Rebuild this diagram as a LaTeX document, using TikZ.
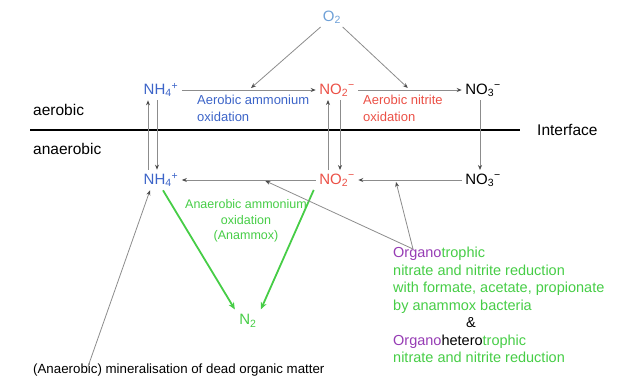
\documentclass[tikz,border=0pt]{standalone}
\usepackage{fontspec}
\setmainfont{Liberation Sans}
\usetikzlibrary{arrows.meta}

\definecolor{oxblue}{RGB}{110,160,215}
\definecolor{amblue}{RGB}{60,100,200}
\definecolor{nitred}{RGB}{235,80,70}
\definecolor{anagreen}{RGB}{70,205,70}
\definecolor{orgpurple}{RGB}{150,60,180}
\definecolor{linegray}{RGB}{140,140,140}

\newcommand{\ammon}{NH\textsubscript{4}\textsuperscript{+}}
\newcommand{\nitrite}{NO\textsubscript{2}\textsuperscript{\char"2212}}
\newcommand{\nitrate}{NO\textsubscript{3}\textsuperscript{\char"2212}}

\tikzset{
  spec/.style={font=\fontsize{15}{18}\selectfont},
  conv/.style={draw=linegray, line width=0.8pt,
    -{Stealth[length=5pt,width=4pt,color=black!70]}},
  ana/.style={draw=anagreen, line width=1.8pt,
    -{Stealth[length=7pt,width=6pt]}},
  proclabel/.style={anchor=north west, inner sep=0pt, align=left,
    font=\fontsize{13}{17}\selectfont},
  zone/.style={anchor=west, inner sep=0pt, font=\fontsize{15.5}{18}\selectfont}
}

\begin{document}
\begin{tikzpicture}[x=1pt,y=-1pt]
    \useasboundingbox (0,0) rectangle (619,384);

    % species
    \node[spec, text=oxblue] (o2) at (332,17) {O\textsubscript{2}};
    \node[spec, text=amblue] (nh4a) at (161,90) {\ammon};
    \node[spec, text=nitred] (no2a) at (337,90) {\nitrite};
    \node[spec] (no3a) at (483,90) {\nitrate};
    \node[spec, text=amblue] (nh4b) at (161,180) {\ammon};
    \node[spec, text=nitred] (no2b) at (337,180) {\nitrite};
    \node[spec] (no3b) at (483,180) {\nitrate};
    \node[spec, text=anagreen] (n2) at (248,321) {N\textsubscript{2}};

    % zones and interface
    \node[zone] (aer) at (33,110) {aerobic};
    \node[zone] (anaer) at (33,149) {anaerobic};
    \coordinate (ifl) at (30,130);
    \coordinate (ifr) at (520,130);
    \draw[line width=2.5pt] (ifl) -- (ifr);
    \node[zone] (iface) at (537,130) {Interface};

    % aerobic oxidations
    \draw[conv] (nh4a) -- coordinate[pos=0.5] (amox) (no2a);
    \draw[conv] (no2a) -- coordinate[pos=0.5] (nitox) (no3a);
    \draw[conv, shorten >=3pt] (o2) -- (amox);
    \draw[conv, shorten >=3pt] (o2) -- (nitox);
    \node[proclabel, text=amblue] (amoxlabel) at (197,95) {Aerobic ammonium\\oxidation};
    \node[proclabel, text=nitred] (nitoxlabel) at (363,95) {Aerobic nitrite\\oxidation};

    % exchange across the interface
    \draw[conv] ([xshift=-13pt]nh4b.north) -- ([xshift=-13pt]nh4a.south);
    \draw[conv] ([xshift=-4pt]nh4a.south) -- ([xshift=-4pt]nh4b.north);
    \draw[conv] ([xshift=-9pt]no2b.north) -- ([xshift=-9pt]no2a.south);
    \draw[conv] ([xshift=3pt]no2a.south) -- ([xshift=3pt]no2b.north);
    \draw[conv] ([xshift=-3pt]no3a.south) -- ([xshift=-3pt]no3b.north);

    % anaerobic reductions
    \draw[conv] (no2b) -- coordinate[pos=0.39] (dnra) (nh4b);
    \draw[conv] (no3b) -- coordinate[pos=0.64] (denit) (no2b);

    % anammox
    \draw[ana, shorten >=2pt] ([xshift=2pt]nh4b.south) -- (n2.north west);
    \draw[ana, shorten >=2pt] ([xshift=-2pt]no2b.south west) -- (n2.north east);
    \node[align=center, text=anagreen, inner sep=0pt, font=\fontsize{12.5}{15.5}\selectfont]
        (anamlabel) at (246,221) {Anaerobic ammonium\\oxidation\\(Anammox)};

    % organotrophic reduction
    \node[anchor=north west, inner sep=0pt, align=left, text=anagreen,
        font=\fontsize{14.5}{17.5}\selectfont] (orglabel) at (393,247)
        {{\color{orgpurple}Organo}trophic\\
         nitrate and nitrite reduction\\
         with formate, acetate, propionate\\
         by anammox bacteria\\
         \hspace*{73pt}{\color{black}\&}\\
         {\color{orgpurple}Organo}{\color{black}hetero}trophic\\
         nitrate and nitrite reduction};
    \coordinate (orgfoot) at ([xshift=20pt,yshift=-2pt]orglabel.north west);
    \draw[conv, shorten >=2pt] (orgfoot) -- (dnra);
    \draw[conv, shorten >=2pt] (orgfoot) -- (denit);

    % mineralisation
    \node[anchor=west, inner sep=0pt, font=\fontsize{13.3}{16}\selectfont]
        (minlabel) at (33,370) {(Anaerobic) mineralisation of dead organic matter};
    \draw[conv] ([xshift=55pt,yshift=-3pt]minlabel.north west) -- ([xshift=-11pt]nh4b.south);

\end{tikzpicture}
\end{document}
